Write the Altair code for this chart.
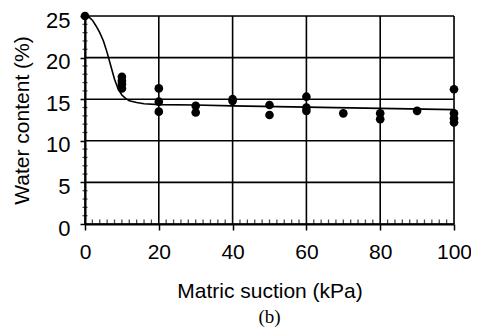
import altair as alt
import pandas as pd

# measured points
pt_x = [0, 10, 10, 10, 10, 20, 20, 20, 30, 30, 40, 40, 50, 50, 60, 60, 60, 70, 80, 80, 90, 100, 100, 100, 100]
pt_y = [25, 17.7, 17.2, 16.8, 16.3, 16.3, 14.7, 13.5, 14.2, 13.4, 15.0, 14.8, 14.3, 13.1, 15.3, 14.0, 13.6, 13.3, 13.3, 12.6, 13.6, 16.2, 13.3, 12.7, 12.2]

# fitted curve
cv_x = [0, 1, 2, 3, 4, 5, 6, 7, 8, 9, 10, 11, 12, 14, 16, 20, 30, 40, 60, 80, 100]
cv_y = [25, 24.9, 24.5, 23.8, 23.0, 22.0, 20.6, 19.0, 17.4, 16.2, 15.5, 15.1, 14.8, 14.6, 14.45, 14.35, 14.3, 14.2, 14.05, 13.9, 13.75]

x_major = [0, 20, 40, 60, 80, 100]
y_major = [0, 5, 10, 15, 20, 25]
x_minor = [v for v in range(0, 101, 2) if v % 20 != 0]
y_minor = [v for v in range(0, 26, 1) if v % 5 != 0]

pts = pd.DataFrame({"x": pt_x, "y": pt_y})
cv = pd.DataFrame({"x": cv_x, "y": cv_y})
gx = pd.DataFrame({"v": x_major})
gy = pd.DataFrame({"v": y_major})
mx = pd.DataFrame({"v": x_minor})
my = pd.DataFrame({"v": y_minor})

FONT = "Liberation Sans"

x_axis = alt.Axis(
    values=x_major,
    labelOverlap=False,
    grid=False,
    tickSize=6,
    tickColor="black",
    tickWidth=1.5,
    domainColor="black",
    domainWidth=2,
    labelFont=FONT,
    labelFontSize=21,
    labelColor="black",
    labelPadding=11,
    labelFlush=False,
    title="Matric suction (kPa)",
    titleFont=FONT,
    titleFontSize=21,
    titleFontWeight="normal",
    titleColor="black",
    titlePadding=18,
)

y_axis = alt.Axis(
    values=y_major,
    labelOverlap=False,
    grid=False,
    tickSize=5,
    tickColor="black",
    tickWidth=1.5,
    domainColor="black",
    domainWidth=2,
    labelFont=FONT,
    labelFontSize=22,
    labelColor="black",
    labelPadding=10,
    labelOffset=4,
    labelFlush=False,
    title="Water content (%)",
    titleFont=FONT,
    titleFontSize=21,
    titleFontWeight="normal",
    titleColor="black",
    titlePadding=13,
)

xs = alt.Scale(domain=[0, 100], nice=False)
ys = alt.Scale(domain=[0, 25], nice=False)

vgrid = alt.Chart(gx).mark_rule(color="black", strokeWidth=1.6).encode(
    x=alt.X("v:Q", scale=xs, axis=x_axis),
)
hgrid = alt.Chart(gy).mark_rule(color="black", strokeWidth=1.6).encode(
    y=alt.Y("v:Q", scale=ys, axis=y_axis),
)

xminor = alt.Chart(mx).mark_tick(color="black", thickness=1.3, size=5, yOffset=-2, orient="vertical").encode(
    x=alt.X("v:Q", scale=xs),
    y=alt.datum(0, scale=ys),
)
yminor = alt.Chart(my).mark_tick(color="black", thickness=1.3, size=5, orient="horizontal").encode(
    y=alt.Y("v:Q", scale=ys),
    x=alt.datum(0, scale=xs),
)

line = alt.Chart(cv).mark_line(color="black", strokeWidth=1.6).encode(
    x=alt.X("x:Q", scale=xs),
    y=alt.Y("y:Q", scale=ys),
)

dots = alt.Chart(pts).mark_circle(color="black", opacity=1, size=75).encode(
    x=alt.X("x:Q", scale=xs),
    y=alt.Y("y:Q", scale=ys),
)

chart = alt.layer(vgrid, hgrid, xminor, yminor, line, dots).properties(
    width=369,
    height=208,
    autosize=alt.AutoSizeParams(type="none"),
    padding={"left": 77, "top": 8, "right": 17, "bottom": 110},
    title=alt.TitleParams(
        "(b)", orient="bottom", font="Liberation Serif", fontSize=19,
        fontWeight="normal", color="black", offset=7, anchor="middle",
    ),
).configure_view(stroke=None).configure(background="white")

chart.save("out.html", embed_options={"renderer": "svg", "actions": False})
